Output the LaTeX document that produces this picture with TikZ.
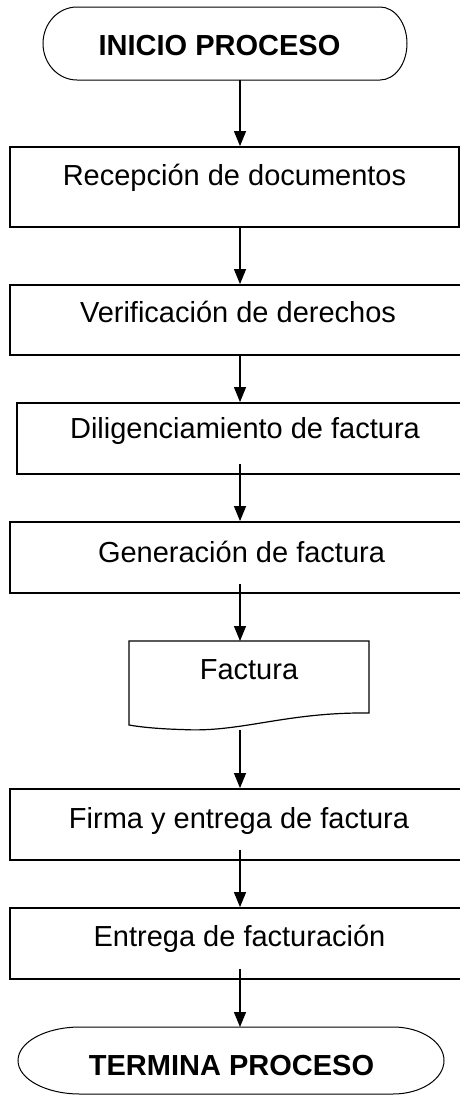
\documentclass[tikz,border=0pt]{standalone}
\usepackage{fontspec}
\setmainfont{Liberation Sans}
\usetikzlibrary{arrows.meta,calc}
\begin{document}
\begin{tikzpicture}[x=1pt,y=-1pt,
  box/.style={draw, line width=1.8pt, inner sep=0pt, fill=none},
  term/.style={draw, line width=1pt},
  doc/.style={draw, line width=1.2pt},
  txt/.style={inner sep=0pt, anchor=base, font=\fontsize{29}{34}\selectfont},
  btxt/.style={txt, font=\fontsize{29}{34}\selectfont\bfseries},
  arr/.style={line width=1.2pt, -{Triangle[width=12pt,length=15pt]}}]
\useasboundingbox (0,0) rectangle (460,1096);
\clip (0,0) rectangle (460,1096);
\coordinate (ax) at (240,0);
% start terminal
\draw[term] (77,7) -- (380,7) arc[start angle=-90,end angle=90,x radius=27,y radius=36.5]
  -- (77,80) arc[start angle=90,end angle=270,x radius=34,y radius=36.5] -- cycle;
\node[inner sep=0pt, outer sep=0pt, minimum width=364pt, minimum height=73pt] (start) at (225,43.5) {};
\node[btxt] (t0) at (219.5,55) {INICIO PROCESO};
% boxes
\node[box, minimum width=449pt, minimum height=80pt] (b1) at (234.5,187) {};
\node[txt] (t1) at (234.5,185) {Recepción de documentos};
\node[box, minimum width=456pt, minimum height=70pt] (b2) at (238,320) {};
\node[txt] (t2) at (238,322) {Verificación de derechos};
\node[box, minimum width=456pt, minimum height=71pt] (b3) at (245,438.5) {};
\node[txt] (t3) at (245,438) {Diligenciamiento de factura};
\node[box, minimum width=463pt, minimum height=71pt] (b4) at (241.5,557.5) {};
\node[txt] (t4) at (241.5,562) {Generación de factura};
% document
\draw[doc] (129,641) -- (369,641) -- (369,713)
  .. controls (285,712) and (240,733) .. (182,729.5)
  .. controls (160,729) and (140,727) .. (129,725) -- cycle;
\node[inner sep=0pt, outer sep=0pt, minimum width=240pt, minimum height=89pt] (doc) at (249,685.5) {};
\node[txt] (t5) at (249,679) {Factura};
\node[box, minimum width=458pt, minimum height=71pt] (b5) at (239,824.5) {};
\node[txt] (t6) at (239,828) {Firma y entrega de factura};
\node[box, minimum width=459pt, minimum height=71pt] (b6) at (239.5,943.5) {};
\node[txt] (t7) at (239.5,946) {Entrega de facturación};
% end terminal
\draw[term] (80,1027) -- (393,1027) arc[start angle=-90,end angle=90,x radius=51,y radius=33.5]
  -- (80,1094) arc[start angle=90,end angle=270,x radius=62,y radius=33.5] -- cycle;
\node[inner sep=0pt, outer sep=0pt, minimum width=426pt, minimum height=67pt] (end) at (231,1060.5) {};
\node[btxt] (t8) at (231.5,1075) {TERMINA PROCESO};
% connectors
\draw[arr] (start.south -| ax) -- (b1.north -| ax);
\draw[arr] (b1.south -| ax) -- (b2.north -| ax);
\draw[arr] (b2.south -| ax) -- (b3.north -| ax);
\draw[arr] ($(b3.south -| ax)+(0,-11)$) -- (b4.north -| ax);
\draw[arr] ($(b4.south -| ax)+(0,-10)$) -- (doc.north -| ax);
\draw[arr] (doc.south -| ax) -- (b5.north -| ax);
\draw[arr] ($(b5.south -| ax)+(0,-11)$) -- (b6.north -| ax);
\draw[arr] ($(b6.south -| ax)+(0,-11)$) -- (end.north -| ax);
\end{tikzpicture}
\end{document}
